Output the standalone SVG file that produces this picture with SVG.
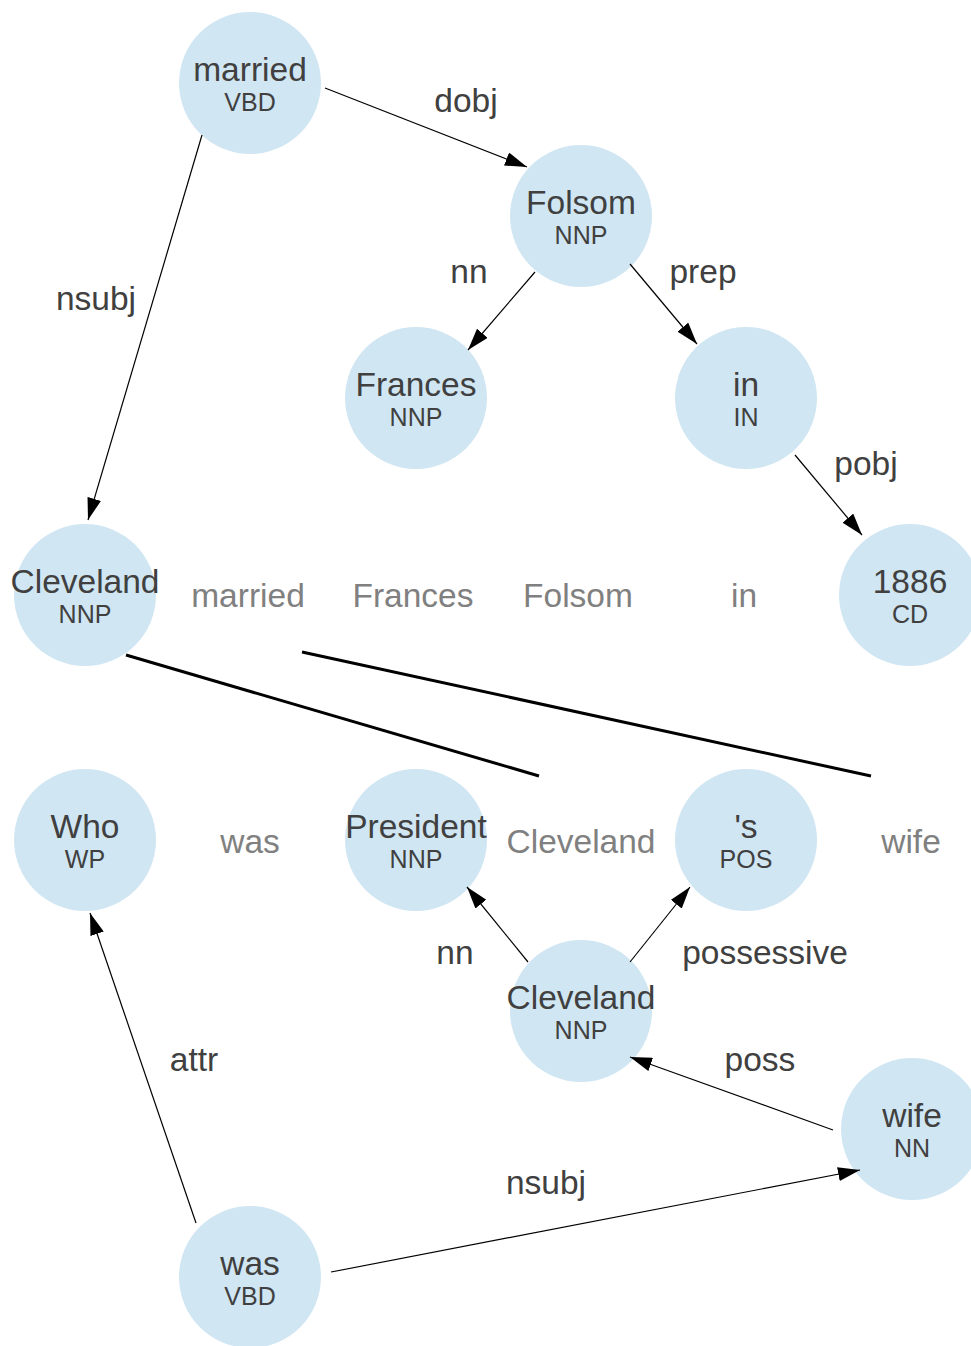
<svg xmlns="http://www.w3.org/2000/svg" width="971" height="1346" viewBox="0 0 971 1346">
<style>
.n{fill:#d0e6f3}
.w{font-family:"Liberation Sans",Arial,sans-serif;font-size:33.5px;fill:#404040;text-anchor:middle}
.t{font-family:"Liberation Sans",Arial,sans-serif;font-size:25px;fill:#404040;text-anchor:middle}
.g{font-family:"Liberation Sans",Arial,sans-serif;font-size:33.5px;fill:#808080;text-anchor:middle}
.l{font-family:"Liberation Sans",Arial,sans-serif;font-size:33.5px;fill:#404040;text-anchor:middle}
.e{stroke:#000;stroke-width:1.2;fill:none;marker-end:url(#ah)}
.b{stroke:#000;stroke-width:3;fill:none}
</style>
<defs>
<marker id="ah" markerUnits="userSpaceOnUse" markerWidth="22" markerHeight="14" refX="22" refY="7" orient="auto">
<path d="M0,0 L22,7 L0,14 z" fill="#000"/>
</marker>
</defs>
<rect width="971" height="1346" fill="#fff"/>
<g id="nodes">
<g id="n-married"><circle class="n" cx="250" cy="83" r="71"/><text class="w" x="250" y="81">married</text><text class="t" x="250" y="111">VBD</text></g>
<g id="n-folsom"><circle class="n" cx="581" cy="216" r="71"/><text class="w" x="581" y="214">Folsom</text><text class="t" x="581" y="244">NNP</text></g>
<g id="n-frances"><circle class="n" cx="416" cy="398" r="71"/><text class="w" x="416" y="396">Frances</text><text class="t" x="416" y="426">NNP</text></g>
<g id="n-in"><circle class="n" cx="746" cy="398" r="71"/><text class="w" x="746" y="396">in</text><text class="t" x="746" y="426">IN</text></g>
<g id="n-cleveland1"><circle class="n" cx="85" cy="595" r="71"/><text class="w" x="85" y="593">Cleveland</text><text class="t" x="85" y="623">NNP</text></g>
<g id="n-1886"><circle class="n" cx="910" cy="595" r="71"/><text class="w" x="910" y="593">1886</text><text class="t" x="910" y="623">CD</text></g>
<g id="n-who"><circle class="n" cx="85" cy="840" r="71"/><text class="w" x="85" y="838">Who</text><text class="t" x="85" y="868">WP</text></g>
<g id="n-president"><circle class="n" cx="416" cy="840" r="71"/><text class="w" x="416" y="838">President</text><text class="t" x="416" y="868">NNP</text></g>
<g id="n-s"><circle class="n" cx="746" cy="840" r="71"/><text class="w" x="746" y="838">'s</text><text class="t" x="746" y="868">POS</text></g>
<g id="n-cleveland2"><circle class="n" cx="581" cy="1011" r="71"/><text class="w" x="581" y="1009">Cleveland</text><text class="t" x="581" y="1039">NNP</text></g>
<g id="n-wife"><circle class="n" cx="912" cy="1129" r="71"/><text class="w" x="912" y="1127">wife</text><text class="t" x="912" y="1157">NN</text></g>
<g id="n-was"><circle class="n" cx="250" cy="1277" r="71"/><text class="w" x="250" y="1275">was</text><text class="t" x="250" y="1305">VBD</text></g>
</g>
<g id="words">
<text class="g" x="248" y="607">married</text>
<text class="g" x="413" y="607">Frances</text>
<text class="g" x="578" y="607">Folsom</text>
<text class="g" x="744" y="607">in</text>
<text class="g" x="250" y="853">was</text>
<text class="g" x="581" y="853">Cleveland</text>
<text class="g" x="911" y="853">wife</text>
</g>
<g id="connectors">
<line class="e" x1="325" y1="88" x2="527" y2="167"/>
<line class="e" x1="202" y1="135" x2="88" y2="520"/>
<line class="e" x1="535" y1="272" x2="468" y2="350"/>
<line class="e" x1="630" y1="264" x2="697" y2="344"/>
<line class="e" x1="795" y1="455" x2="862" y2="535"/>
<line class="e" x1="528" y1="962" x2="467" y2="887"/>
<line class="e" x1="630" y1="962" x2="690" y2="887"/>
<line class="e" x1="833" y1="1130" x2="630" y2="1057"/>
<line class="e" x1="196" y1="1223" x2="90" y2="913"/>
<line class="e" x1="331" y1="1272" x2="860" y2="1170"/>
<line class="b" x1="126" y1="655" x2="539" y2="776"/>
<line class="b" x1="302" y1="652" x2="871" y2="776"/>
<text class="l" x="466" y="112">dobj</text>
<text class="l" x="96" y="310">nsubj</text>
<text class="l" x="469" y="283">nn</text>
<text class="l" x="703" y="283">prep</text>
<text class="l" x="866" y="475">pobj</text>
<text class="l" x="455" y="964">nn</text>
<text class="l" x="765" y="964">possessive</text>
<text class="l" x="760" y="1071">poss</text>
<text class="l" x="194" y="1071">attr</text>
<text class="l" x="546" y="1194">nsubj</text>
</g>
</svg>
